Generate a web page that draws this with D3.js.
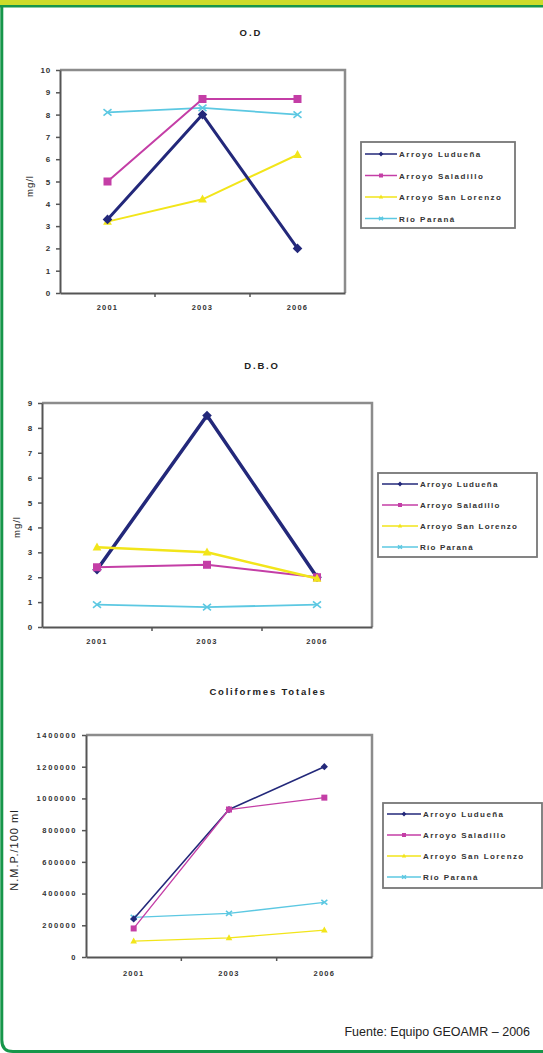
<!DOCTYPE html>
<html><head><meta charset="utf-8">
<script src="https://cdn.jsdelivr.net/npm/d3@7"></script>
<style>
html,body{margin:0;padding:0;background:#fff;}
svg{display:block;}
</style></head>
<body>
<svg id="c" width="543" height="1053"></svg>
<script>
// ---- DATA ----
const years = ["2001", "2003", "2006"];
const seriesNames = ["Arroyo Ludueña", "Arroyo Saladillo", "Arroyo San Lorenzo", "Río Paraná"];

const odLuduena = [3.3, 8.0, 2.0];
const odSaladillo = [5.0, 8.7, 8.7];
const odSanLorenzo = [3.2, 4.2, 6.2];
const odParana = [8.1, 8.3, 8.0];
const odTicks = [0, 1, 2, 3, 4, 5, 6, 7, 8, 9, 10];

const dboLuduena = [2.3, 8.5, 2.0];
const dboSaladillo = [2.4, 2.5, 2.0];
const dboSanLorenzo = [3.2, 3.0, 1.95];
const dboParana = [0.9, 0.8, 0.9];
const dboTicks = [0, 1, 2, 3, 4, 5, 6, 7, 8, 9];

const colLuduena = [240000, 930000, 1200000];
const colSaladillo = [180000, 930000, 1005000];
const colSanLorenzo = [100000, 120000, 170000];
const colParana = [250000, 275000, 345000];
const colTicks = [0, 200000, 400000, 600000, 800000, 1000000, 1200000, 1400000];

// ---- STYLE ----
const colors = ["#23287a", "#c43ea6", "#f2e51a", "#5cc8e2"];
const shapes = ["diamond", "square", "triangle", "x"];
const FF = "Liberation Sans, Arial, sans-serif";

const svg = d3.select("#c");

// frame
svg.append("rect").attr("x", 0).attr("y", 0).attr("width", 543).attr("height", 6).attr("fill", "#cddc2a");
svg.append("rect").attr("x", 0).attr("y", 5).attr("width", 543).attr("height", 2.5).attr("fill", "#16964a");
svg.append("path").attr("d", "M1.8,6 L1.8,1040 Q1.8,1051.5 13,1051.5 L543,1051.5")
  .attr("fill", "none").attr("stroke", "#16964a").attr("stroke-width", 3);

function marker(g, shape, x, y, size, color) {
  const s = size / 2;
  if (shape === "diamond") {
    g.append("path").attr("d", `M${x},${y - s * 1.2}L${x + s * 1.2},${y}L${x},${y + s * 1.2}L${x - s * 1.2},${y}Z`).attr("fill", color);
  } else if (shape === "square") {
    g.append("rect").attr("x", x - s).attr("y", y - s).attr("width", size).attr("height", size).attr("fill", color);
  } else if (shape === "triangle") {
    g.append("path").attr("d", `M${x},${y - s * 1.2}L${x + s * 1.1},${y + s * 0.8}L${x - s * 1.1},${y + s * 0.8}Z`).attr("fill", color);
  } else {
    g.append("path").attr("d", `M${x - s},${y - s * 0.8}L${x + s},${y + s * 0.8}M${x - s},${y + s * 0.8}L${x + s},${y - s * 0.8}`)
      .attr("stroke", color).attr("stroke-width", 1.6).attr("fill", "none");
  }
}

function drawChart(cfg) {
  const g = svg.append("g");
  const x = d3.scaleBand().domain(years).range([cfg.left, cfg.right]);
  const y = d3.scaleLinear().domain([0, cfg.ymax]).range([cfg.bottom, cfg.top]);

  g.append("text").attr("x", cfg.titleX).attr("y", cfg.titleY).attr("text-anchor", "middle")
    .attr("font-family", FF).attr("font-weight", "bold").attr("letter-spacing", cfg.titleLS)
    .attr("font-size", 9.5).attr("fill", "#222").text(cfg.title);

  // top & right border (gray)
  g.append("path").attr("d", `M${cfg.left},${cfg.top}L${cfg.right},${cfg.top}L${cfg.right},${cfg.bottom}`)
    .attr("fill", "none").attr("stroke", "#8c8c8c").attr("stroke-width", 2.5);

  // y axis
  const ya = g.append("g").attr("transform", `translate(${cfg.left},0)`)
    .call(d3.axisLeft(y).tickValues(cfg.ticks).tickSize(4).tickPadding(5).tickSizeOuter(0).tickFormat(d3.format("d")));
  ya.select(".domain").attr("stroke", "#555").attr("stroke-width", 2);
  ya.selectAll(".tick line").attr("stroke", "#555").attr("stroke-width", 1.5);
  ya.selectAll("text").attr("font-family", FF).attr("font-weight", "bold")
    .attr("font-size", cfg.tickFont).attr("letter-spacing", cfg.tickLS).attr("fill", "#333");

  // x axis
  const xa = g.append("g").attr("transform", `translate(0,${cfg.bottom})`)
    .call(d3.axisBottom(x).tickSize(0).tickPadding(cfg.xPad).tickSizeOuter(0));
  xa.select(".domain").attr("stroke", "#555").attr("stroke-width", 2);
  xa.selectAll("text").attr("font-family", FF).attr("font-weight", "bold")
    .attr("font-size", 7.5).attr("letter-spacing", 1.2).attr("fill", "#333");
  years.slice(1).forEach(yr => {
    g.append("line").attr("x1", x(yr)).attr("x2", x(yr)).attr("y1", cfg.bottom).attr("y2", cfg.bottom + 4)
      .attr("stroke", "#555").attr("stroke-width", 1.5);
  });

  // y label
  g.append("text").attr("transform", `translate(${cfg.ylabX},${cfg.ylabY}) rotate(-90)`).attr("text-anchor", "middle")
    .attr("font-family", FF).attr("font-size", cfg.ylabFont).attr("letter-spacing", cfg.ylabLS)
    .attr("fill", "#222").text(cfg.ylabel);

  const line = d3.line().x((d, i) => x(years[i]) + x.bandwidth() / 2).y(d => y(d));
  cfg.order.forEach(si => {
    const vals = cfg.series[si];
    g.append("path").datum(vals).attr("d", line).attr("fill", "none")
      .attr("stroke", colors[si]).attr("stroke-width", cfg.widths[si]).attr("stroke-linejoin", "round");
    vals.forEach((v, i) => marker(g, shapes[si], x(years[i]) + x.bandwidth() / 2, y(v), cfg.msize, colors[si]));
  });

  // legend
  const L = cfg.legend;
  g.append("rect").attr("x", L.x).attr("y", L.y).attr("width", L.w).attr("height", L.h)
    .attr("fill", "#fff").attr("stroke", "#777").attr("stroke-width", 1.8);
  seriesNames.forEach((name, i) => {
    const ly = L.y + L.first + i * L.step;
    g.append("line").attr("x1", L.x + 4).attr("x2", L.x + 4 + L.lineW).attr("y1", ly).attr("y2", ly)
      .attr("stroke", colors[i]).attr("stroke-width", 1.5);
    marker(g, shapes[i], L.x + 4 + L.lineW / 2, ly, 4, colors[i]);
    g.append("text").attr("x", L.x + 6 + L.lineW).attr("y", ly + 3)
      .attr("font-family", FF).attr("font-weight", "bold").attr("letter-spacing", L.ls)
      .attr("font-size", 8).attr("fill", "#333").text(name);
  });
}

drawChart({
  title: "O.D", titleX: 251, titleY: 36, titleLS: 2,
  left: 60, right: 345, top: 70, bottom: 293, ymax: 10, ticks: odTicks, tickFont: 8, tickLS: 0.8, xPad: 12,
  ylabel: "mg/l", ylabX: 33, ylabY: 186, ylabFont: 9.5, ylabLS: 1,
  series: [odLuduena, odSaladillo, odSanLorenzo, odParana], order: [3, 1, 2, 0],
  widths: [3, 2, 2, 1.8], msize: 8,
  legend: { x: 361, y: 142, w: 154, h: 86, first: 12, step: 21.5, lineW: 32, ls: 1.5 }
});

drawChart({
  title: "D.B.O", titleX: 262, titleY: 369, titleLS: 1.8,
  left: 42, right: 372, top: 403, bottom: 627, ymax: 9, ticks: dboTicks, tickFont: 8, tickLS: 0.8, xPad: 12,
  ylabel: "mg/l", ylabX: 20, ylabY: 527, ylabFont: 9.5, ylabLS: 1,
  series: [dboLuduena, dboSaladillo, dboSanLorenzo, dboParana], order: [3, 0, 1, 2],
  widths: [3.5, 2, 2.5, 1.8], msize: 8,
  legend: { x: 378, y: 473, w: 159, h: 84, first: 11, step: 21, lineW: 36, ls: 1.2 }
});

drawChart({
  title: "Coliformes Totales", titleX: 268, titleY: 695, titleLS: 1.8,
  left: 86, right: 372, top: 735, bottom: 957, ymax: 1400000, ticks: colTicks, tickFont: 7.5, tickLS: 1.6, xPad: 14,
  ylabel: "N.M.P./100 ml", ylabX: 18, ylabY: 850, ylabFont: 11, ylabLS: 1,
  series: [colLuduena, colSaladillo, colSanLorenzo, colParana], order: [3, 2, 0, 1],
  widths: [1.6, 1.3, 1.3, 1.3], msize: 6,
  legend: { x: 383, y: 803, w: 159, h: 85, first: 11, step: 21, lineW: 34, ls: 1.4 }
});

// footer
svg.append("text").attr("x", 530).attr("y", 1036).attr("text-anchor", "end")
  .attr("font-family", FF).attr("font-size", 12.5).attr("fill", "#222")
  .text("Fuente: Equipo GEOAMR – 2006");
</script>
</body></html>
